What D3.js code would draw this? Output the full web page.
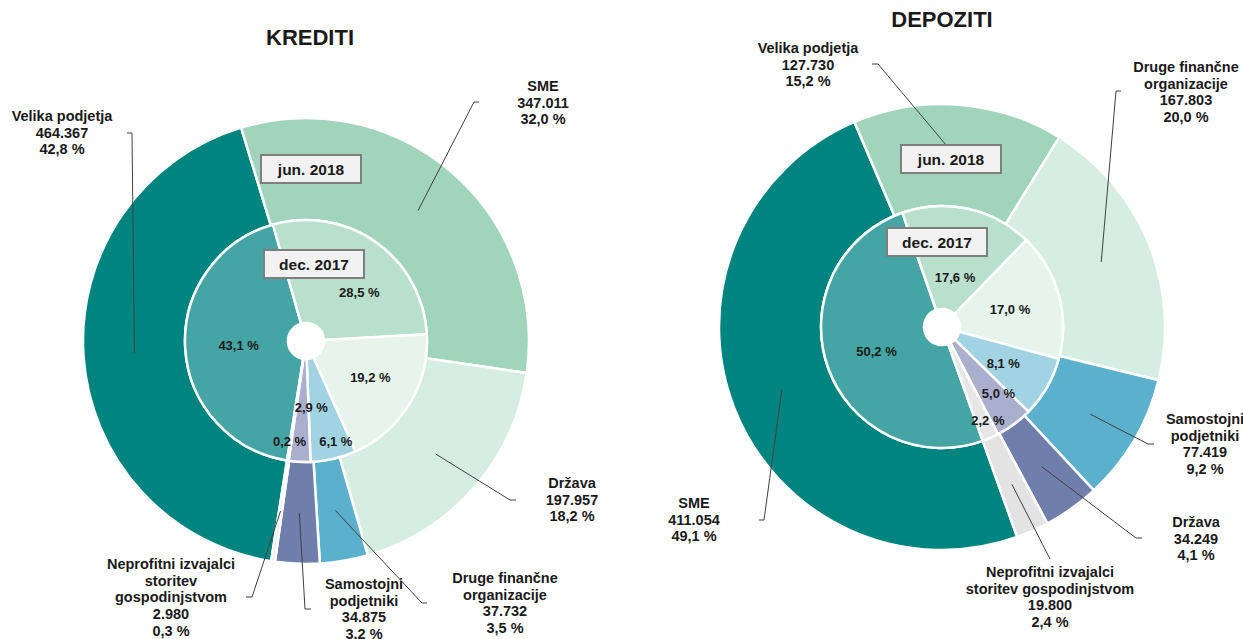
<html lang="sl">
<head>
    <meta charset="UTF-8">
    <script src="https://d3js.org/d3.v7.min.js"></script>
    <title>Krediti in depoziti</title>
    <style>
body {
    margin: 0;
    background-color: white;
}

svg {
    display: block;
    font-family: 'Liberation Sans', Arial, sans-serif;
}

.title {
    font-size: 22px;
    font-weight: bold;
    fill: #1a1a1a;
}

.label {
    font-size: 14.5px;
    font-weight: bold;
    fill: #1a1a1a;
}

.pct {
    font-size: 13px;
    font-weight: bold;
    fill: #1a1a1a;
}

.period {
    font-size: 15.5px;
    font-weight: bold;
    fill: #1a1a1a;
}
    </style>
</head>

<body>
    <svg id='canvas' width='1243' height='639'></svg>
</body>
<script>
    // data - KREDITI (jun. 2018 outer, dec. 2017 inner)
    let kreditiCategories = ['Velika podjetja', 'SME', 'Država', 'Druge finančne organizacije', 'Samostojni podjetniki', 'Neprofitni izvajalci storitev gospodinjstvom'];
    let kreditiJun2018 = [464367, 347011, 197957, 37732, 34875, 2980];
    let kreditiJun2018Pct = [42.8, 32.0, 18.2, 3.5, 3.2, 0.3];
    let kreditiDec2017Pct = [43.1, 28.5, 19.2, 6.1, 2.9, 0.2];

    // data - DEPOZITI
    let depozitiCategories = ['SME', 'Velika podjetja', 'Druge finančne organizacije', 'Samostojni podjetniki', 'Država', 'Neprofitni izvajalci storitev gospodinjstvom'];
    let depozitiJun2018 = [411054, 127730, 167803, 77419, 34249, 19800];
    let depozitiJun2018Pct = [49.1, 15.2, 20.0, 9.2, 4.1, 2.4];
    let depozitiDec2017Pct = [50.2, 17.6, 17.0, 8.1, 5.0, 2.2];

    // colours by slice position
    let outerColors = ['#00847F', '#A1D5BB', '#D6EDE1', '#5BB1CD', '#6F7EAA', '#E3E3E3'];
    let innerColors = ['#45A5A4', '#B9E0CC', '#E6F4EB', '#A1D3E3', '#A9AFCC', '#E6E6E6'];

    let canvas = d3.select('#canvas');

    let fmtValue = (v) => d3.format(',')(v).replace(/,/g, '.');
    let fmtPct = (p) => d3.format('.1f')(p).replace('.', ',') + ' %';

    // label layout: name lines, label centre x, first baseline, leader elbow and end
    let kreditiLayout = [
        { lines: ['Velika podjetja'], x: 62, y: 121, elbow: [132, 133], end: [127, 133] },
        { lines: ['SME'], x: 543, y: 91, elbow: [474, 102], end: [479, 102] },
        { lines: ['Država'], x: 572, y: 488, elbow: [510, 500], end: [516, 500] },
        { lines: ['Druge finančne', 'organizacije'], x: 505, y: 583, elbow: [422, 603], end: [427, 603] },
        { lines: ['Samostojni', 'podjetniki'], x: 364, y: 589, elbow: [305, 609], end: [311, 609] },
        { lines: ['Neprofitni izvajalci', 'storitev', 'gospodinjstvom'], x: 171, y: 569, elbow: [252, 597], end: [246, 597] }
    ];
    let kreditiPctOffsets = [[2, 0], [13, 8], [5, 0], [14, 32], [9, -3], [-6, 31]];

    let depozitiLayout = [
        { lines: ['SME'], x: 694, y: 508, elbow: [764, 520], end: [759, 520] },
        { lines: ['Velika podjetja'], x: 808, y: 53, elbow: [878, 64], end: [872, 64] },
        { lines: ['Druge finančne', 'organizacije'], x: 1186, y: 72, elbow: [1116, 91], end: [1121, 91] },
        { lines: ['Samostojni', 'podjetniki'], x: 1205, y: 424, elbow: [1148, 444], end: [1154, 444] },
        { lines: ['Država'], x: 1196, y: 527, elbow: [1136, 538], end: [1142, 538] },
        { lines: ['Neprofitni izvajalci', 'storitev gospodinjstvom'], x: 1050, y: 577, elbow: [1050, 559], end: [1050, 559] }
    ];
    let depozitiPctOffsets = [[0, 1], [-2, 18], [1, 0], [1, 1], [15, 10], [18, 29]];

    let drawDonut = (opts) => {
        let rad = (deg) => deg * Math.PI / 180;
        let start = rad(opts.startDeg);
        let pie = d3.pie().sort(null).value((d) => d)
            .startAngle(start).endAngle(start + 2 * Math.PI);

        let g = canvas.append('g')
            .attr('transform', 'translate(' + opts.cx + ',' + opts.cy + ')');

        let innerArc = d3.arc().innerRadius(18).outerRadius(opts.rInner);
        let outerArc = d3.arc().innerRadius(opts.rInner).outerRadius(opts.rOuter);

        let outerSlices = pie(opts.outer);
        let innerSlices = pie(opts.inner);

        g.selectAll('.outer')
            .data(outerSlices)
            .enter()
            .append('path')
            .attr('class', 'outer')
            .attr('d', outerArc)
            .attr('fill', (d, i) => outerColors[i])
            .attr('stroke', 'white')
            .attr('stroke-width', 2.5)
            .attr('stroke-linejoin', 'round');

        g.selectAll('.inner')
            .data(innerSlices)
            .enter()
            .append('path')
            .attr('class', 'inner')
            .attr('d', innerArc)
            .attr('fill', (d, i) => innerColors[i])
            .attr('stroke', 'white')
            .attr('stroke-width', 2.5)
            .attr('stroke-linejoin', 'round');

        // inner percentages
        g.selectAll('.pct')
            .data(innerSlices)
            .enter()
            .append('text')
            .attr('class', 'pct')
            .attr('text-anchor', 'middle')
            .attr('x', (d, i) => innerArc.centroid(d)[0] + opts.pctOffsets[i][0])
            .attr('y', (d, i) => innerArc.centroid(d)[1] + opts.pctOffsets[i][1] + 5)
            .text((d, i) => fmtPct(opts.innerPct[i]));

        // leader lines and outer labels
        outerSlices.forEach((d, i) => {
            let lay = opts.layout[i];
            let c = outerArc.centroid(d);
            let p0 = [opts.cx + c[0], opts.cy + c[1]];
            canvas.append('polyline')
                .attr('points', [p0, lay.elbow, lay.end].map((p) => p.join(',')).join(' '))
                .attr('fill', 'none')
                .attr('stroke', '#404040')
                .attr('stroke-width', 1);

            let lines = lay.lines.concat([fmtValue(opts.outer[i]), fmtPct(opts.outerPct[i])]);
            let t = canvas.append('text')
                .attr('class', 'label')
                .attr('text-anchor', 'middle');
            lines.forEach((line, k) => {
                t.append('tspan')
                    .attr('x', lay.x)
                    .attr('y', lay.y + k * 16.7)
                    .text(line);
            });
        });

        // title
        canvas.append('text')
            .attr('class', 'title')
            .attr('text-anchor', 'middle')
            .attr('x', opts.titleX)
            .attr('y', opts.titleY)
            .text(opts.title);

        // period boxes
        opts.boxes.forEach((b) => {
            canvas.append('rect')
                .attr('x', b.x)
                .attr('y', b.y)
                .attr('width', 100)
                .attr('height', 28)
                .attr('fill', '#F2F2F2')
                .attr('stroke', '#7F7F7F')
                .attr('stroke-width', 2);
            canvas.append('text')
                .attr('class', 'period')
                .attr('text-anchor', 'middle')
                .attr('x', b.x + 50)
                .attr('y', b.y + 20)
                .text(b.text);
        });
    };

    drawDonut({
        title: 'KREDITI', titleX: 310, titleY: 45,
        cx: 306, cy: 341, rInner: 121, rOuter: 223, startDeg: 189,
        outer: kreditiJun2018, outerPct: kreditiJun2018Pct,
        inner: kreditiDec2017Pct, innerPct: kreditiDec2017Pct,
        layout: kreditiLayout, pctOffsets: kreditiPctOffsets,
        boxes: [{ x: 261, y: 155, text: 'jun. 2018' }, { x: 264, y: 250, text: 'dec. 2017' }]
    });

    drawDonut({
        title: 'DEPOZITI', titleX: 942, titleY: 27,
        cx: 942, cy: 327, rInner: 121, rOuter: 223, startDeg: 160.3,
        outer: depozitiJun2018, outerPct: depozitiJun2018Pct,
        inner: depozitiDec2017Pct, innerPct: depozitiDec2017Pct,
        layout: depozitiLayout, pctOffsets: depozitiPctOffsets,
        boxes: [{ x: 901, y: 145, text: 'jun. 2018' }, { x: 887, y: 228, text: 'dec. 2017' }]
    });
</script>
</html>
